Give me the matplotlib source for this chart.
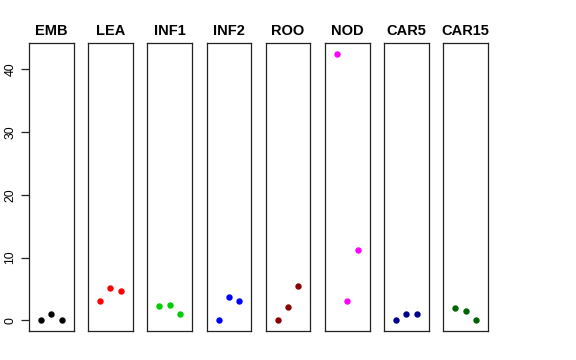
import matplotlib
matplotlib.use('Agg')
import matplotlib.pyplot as plt

plt.rcParams['font.family'] = ['Liberation Sans', 'DejaVu Sans']

# one panel per tissue, three replicates each
tissues = ['EMB', 'LEA', 'INF1', 'INF2', 'ROO', 'NOD', 'CAR5', 'CAR15']
values = [
    [0.0, 1.0, 0.0],
    [3.0, 5.2, 4.7],
    [2.3, 2.5, 1.0],
    [0.0, 3.7, 3.0],
    [0.0, 2.1, 5.4],
    [42.4, 3.0, 11.2],
    [0.0, 1.0, 1.0],
    [2.0, 1.5, 0.0],
]
colors = ['black', 'red', '#00CD00', 'blue', '#8B0000', 'magenta', '#00008B', '#006400']
yticks = [0, 10, 20, 30, 40]

W, H = 576, 360
fig = plt.figure(figsize=(W / 100, H / 100), dpi=100)

left0 = 29.0
step = 59.2
pw = 44.5
top, bottom = 43.3, 331.0

ymax = max(max(v) for v in values)
pad = 0.04 * ymax
ylim = (-pad, ymax + pad)

for i, (name, vals, col) in enumerate(zip(tissues, values, colors)):
    x0 = left0 + i * step
    ax = fig.add_axes([x0 / W, (H - bottom) / H, pw / W, (bottom - top) / H])
    ax.plot([1, 2, 3], vals, 'o', color=col, markersize=4.6, markeredgewidth=0)
    ax.set_xlim(-0.16, 4.16)
    ax.set_ylim(*ylim)
    ax.set_xticks([])
    for sp in ax.spines.values():
        sp.set_linewidth(0.9)
        sp.set_color('#222222')
    ax.set_title(name, fontsize=10.5, fontweight='bold', pad=6)
    if i == 0:
        ax.set_yticks(yticks)
        ax.set_yticklabels([str(t) for t in yticks], rotation=90, va='center', fontsize=8.8)
        ax.tick_params(axis='y', length=6, width=0.9, color='#222222', pad=3)
    else:
        ax.set_yticks([])

fig.savefig('out.png', dpi=100)
